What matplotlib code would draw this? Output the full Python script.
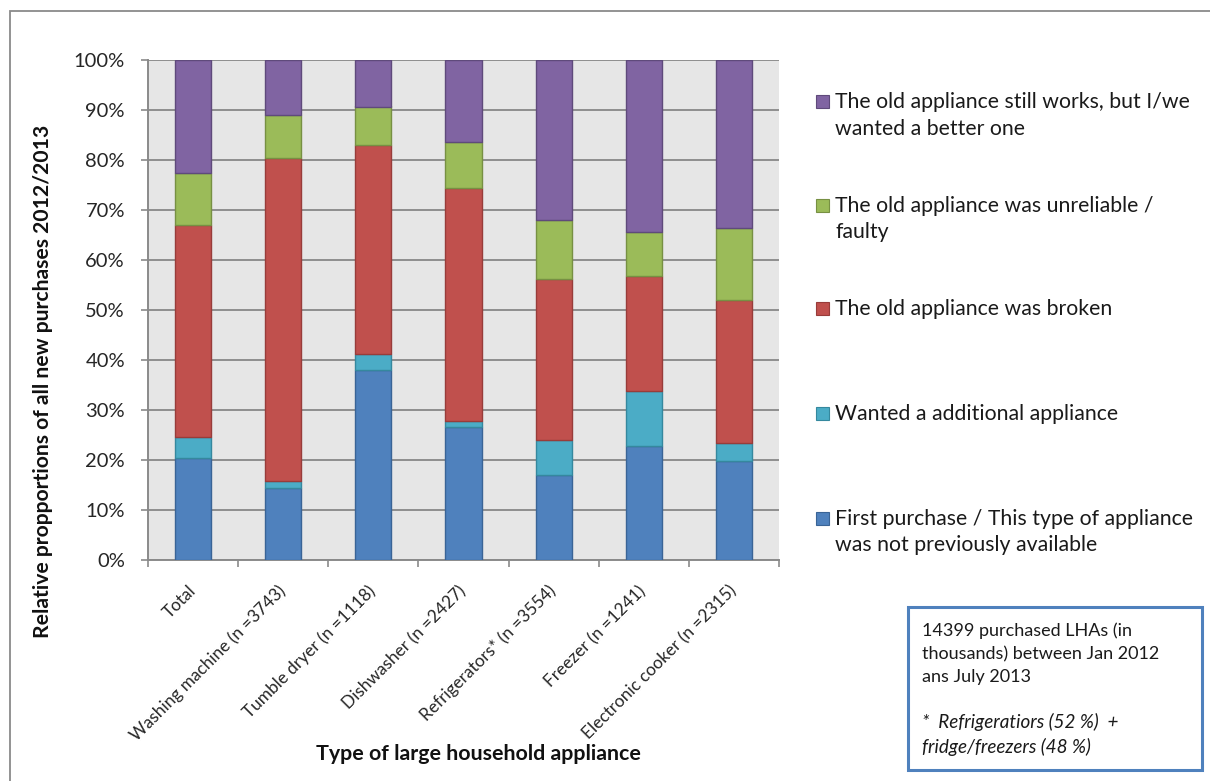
import matplotlib
matplotlib.use("Agg")
import matplotlib.pyplot as plt
from matplotlib.patches import Rectangle
import numpy as np

plt.rcParams['font.family'] = ['Lato', 'DejaVu Sans']

categories = ["Total", "Washing machine (n =3743)", "Tumble dryer (n =1118)",
              "Dishwasher (n =2427)", "Refrigerators* (n =3554)",
              "Freezer (n =1241)", "Electronic cooker (n =2315)"]

# shares in percent, bottom to top of each stack
first_purchase = [20.5, 14.5, 38.0, 26.7, 17.0, 22.9, 19.8]
additional = [4.2, 1.4, 3.2, 1.2, 7.1, 10.9, 3.7]
broken = [42.3, 64.6, 41.8, 46.6, 32.2, 23.0, 28.5]
unreliable = [10.5, 8.6, 7.7, 9.1, 11.7, 8.8, 14.5]
better_one = [22.5, 10.9, 9.3, 16.4, 32.0, 34.4, 33.5]

series_labels = [["First purchase / This type of appliance", "was not previously available"],
                 ["Wanted a additional appliance"],
                 ["The old appliance was broken"],
                 ["The old appliance was unreliable /", "faulty"],
                 ["The old appliance still works, but I/we", "wanted a better one"]]
series_values = [first_purchase, additional, broken, unreliable, better_one]
colors = ["#4f81bd", "#4bacc6", "#c0504d", "#9bbb59", "#8064a2"]
edges = ["#3a6496", "#35889e", "#983c3a", "#779043", "#5f4a7b"]

note_lines = ["14399 purchased LHAs (in", "thousands) between Jan 2012", "ans July 2013"]
footnote_lines = ["*  Refrigeratiors (52 %)  +", "fridge/freezers (48 %)"]

W, H = 1210, 781
fig = plt.figure(figsize=(W / 100, H / 100), dpi=100)

def fx(px):
    return px / W

def fy(py):
    return 1 - py / H

# outer chart border (open towards the right and bottom edges)
fig.patches.append(Rectangle((fx(10), fy(800)), fx(1230) - fx(10), fy(11) - fy(800),
                             transform=fig.transFigure, fill=False,
                             edgecolor="#8a8a8a", linewidth=1.3))

ax = fig.add_axes([fx(148), fy(560), fx(779) - fx(148), fy(60) - fy(560)])
ax.set_facecolor("#e6e6e6")

x = np.arange(len(categories))
bottom = np.zeros(len(categories))
for vals, c, ec in zip(series_values, colors, edges):
    ax.bar(x, vals, width=0.4, bottom=bottom, color=c, edgecolor=ec,
           linewidth=1.0, zorder=3)
    bottom += np.array(vals)

ax.set_xlim(-0.5, len(categories) - 0.5)
ax.set_ylim(0, 100)
ax.set_yticks(np.arange(0, 101, 10))
ax.set_yticklabels([f"{v}%" for v in range(0, 101, 10)], fontsize=14.5, color="#262626")
ax.yaxis.grid(True, color="#8e8e8e", linewidth=1.4, zorder=1)
ax.set_axisbelow(True)
ax.tick_params(axis="y", direction="out", length=5, width=1.2, color="#8a8a8a", pad=11.6)

ax.set_xticks(x)
ax.set_xticklabels(categories, rotation=45, ha="right", va="center",
                   rotation_mode="anchor", fontsize=12.4, color="#262626")
ax.tick_params(axis="x", which="major", length=0, pad=20.5)
ax.set_xticks(np.arange(-0.5, len(categories)), minor=True)
ax.tick_params(axis="x", which="minor", direction="out", length=5, width=1.2,
               color="#8a8a8a")

for side in ("top", "right"):
    ax.spines[side].set_visible(False)
for side in ("left", "bottom"):
    ax.spines[side].set_color("#8a8a8a")
    ax.spines[side].set_linewidth(1.4)

fig.text(fx(43), fy(381), "Relative propportions of all new purchases 2012/2013",
         fontsize=15.2, fontweight="bold", rotation=90, ha="center", va="center",
         color="#111111")
fig.text(fx(316), fy(760), "Type of large household appliance", fontsize=15.4,
         fontweight="bold", ha="left", va="baseline", color="#111111")

# legend, top entry first: (series index, baselines of the text lines)
legend_rows = [(4, [108, 135]), (3, [212, 238]), (2, [315]), (1, [420]), (0, [525, 551])]
for idx, baselines in legend_rows:
    fig.patches.append(Rectangle((fx(816), fy(baselines[0])), fx(13), 13 / H,
                                 transform=fig.transFigure, facecolor=colors[idx],
                                 edgecolor=edges[idx], linewidth=0.8))
    for line, base in zip(series_labels[idx], baselines):
        fig.text(fx(835), fy(base), line, fontsize=15.3, ha="left",
                 va="baseline", color="#1a1a1a")

# note box
fig.patches.append(Rectangle((fx(908), fy(770)), fx(1202) - fx(908), fy(607) - fy(770),
                             transform=fig.transFigure, fill=False,
                             edgecolor="#4f81bd", linewidth=2.2))
for line, base in zip(note_lines, [636, 659, 682]):
    fig.text(fx(922), fy(base), line, fontsize=13.0, ha="left", va="baseline",
             color="#1a1a1a")
for line, base in zip(footnote_lines, [728, 753]):
    fig.text(fx(922), fy(base), line, fontsize=13.6, ha="left", va="baseline",
             style="italic", color="#1a1a1a")

fig.savefig("out.png", dpi=100)
